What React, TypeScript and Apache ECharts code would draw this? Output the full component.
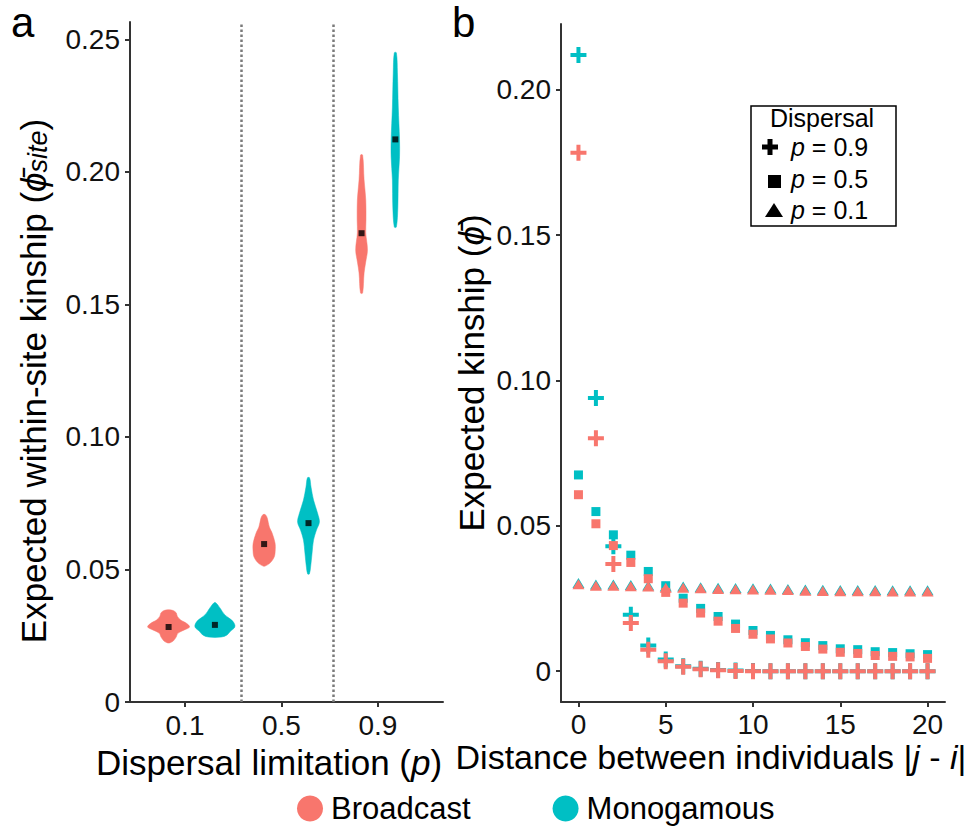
import React, { useEffect, useRef } from "react";
import * as echarts from "echarts";

// ---------- Panel a data ----------
const dispersalCats = ["0.1", "0.5", "0.9"];
const groups = ["Broadcast", "Monogamous"];
const colors: Record<string, string> = { Broadcast: "#F8766D", Monogamous: "#00BFC4" };

// mean within-site kinship per dispersal level
const meanBroadcast = [0.0283, 0.0596, 0.1769];
const meanMonogamous = [0.0291, 0.0675, 0.2123];

// violin density profiles: [kinship, relative density]
const violinBroadcast: number[][][] = [
  [[0.0348, 0.05], [0.0345, 0.22], [0.0337, 0.36], [0.0323, 0.42], [0.0309, 0.58], [0.0297, 0.85], [0.0283, 1.0], [0.0272, 0.75], [0.0260, 0.45], [0.0245, 0.36], [0.0230, 0.22], [0.0223, 0.05]],
  [[0.0707, 0.06], [0.0694, 0.15], [0.0660, 0.25], [0.0638, 0.38], [0.0600, 0.52], [0.0574, 0.53], [0.0547, 0.48], [0.0525, 0.29], [0.0513, 0.05]],
  [[0.2064, 0.05], [0.1970, 0.12], [0.1894, 0.20], [0.1819, 0.21], [0.1770, 0.20], [0.1706, 0.28], [0.1657, 0.19], [0.1619, 0.12], [0.1543, 0.05]],
];
const violinMonogamous: number[][][] = [
  [[0.0374, 0.05], [0.0355, 0.24], [0.0328, 0.48], [0.0309, 0.80], [0.0291, 0.95], [0.0279, 0.92], [0.0268, 0.75], [0.0253, 0.58], [0.0245, 0.3]],
  [[0.0846, 0.05], [0.0811, 0.12], [0.0762, 0.24], [0.0713, 0.43], [0.0679, 0.52], [0.0649, 0.38], [0.0611, 0.24], [0.0562, 0.17], [0.0509, 0.10], [0.0483, 0.04]],
  [[0.2450, 0.05], [0.2374, 0.10], [0.2245, 0.14], [0.2121, 0.20], [0.2057, 0.20], [0.1970, 0.14], [0.1868, 0.12], [0.1792, 0.05]],
];

// ---------- Panel b data ----------
const distances = Array.from({ length: 21 }, (_, i) => i);
const broadcastP09 = [0.1783, 0.0801, 0.0369, 0.0166, 0.0074, 0.0034, 0.0015, 0.0007, 0.0003, 0.0001, 0, 0, 0, 0, 0, 0, 0, 0, 0, 0, 0];
const monogamousP09 = [0.2119, 0.0940, 0.0430, 0.0194, 0.0088, 0.0040, 0.0017, 0.0008, 0.0004, 0.0002, 0.0001, 0, 0, 0, 0, 0, 0, 0, 0, 0, 0];
const broadcastP05 = [0.0607, 0.0507, 0.0432, 0.0374, 0.0318, 0.0271, 0.0234, 0.0200, 0.0172, 0.0147, 0.0127, 0.0111, 0.0097, 0.0085, 0.0076, 0.0065, 0.0061, 0.0054, 0.0051, 0.0049, 0.0044];
const monogamousP05 = [0.0675, 0.0549, 0.0469, 0.0399, 0.0343, 0.0294, 0.0251, 0.0216, 0.0188, 0.0162, 0.0140, 0.0123, 0.0108, 0.0098, 0.0088, 0.0077, 0.0074, 0.0067, 0.0064, 0.0060, 0.0057];
const broadcastP01 = [0.0299, 0.0294, 0.0294, 0.0292, 0.0291, 0.0287, 0.0287, 0.0285, 0.0283, 0.0282, 0.0281, 0.0280, 0.0279, 0.0277, 0.0276, 0.0275, 0.0275, 0.0275, 0.0274, 0.0274, 0.0274];
const monogamousP01 = [0.0303, 0.0298, 0.0298, 0.0296, 0.0295, 0.0291, 0.0291, 0.0289, 0.0287, 0.0286, 0.0285, 0.0284, 0.0283, 0.0281, 0.0280, 0.0279, 0.0279, 0.0279, 0.0278, 0.0278, 0.0278];

const yTicksA = [0, 0.05, 0.1, 0.15, 0.2, 0.25];
const yTicksB = [0, 0.05, 0.1, 0.15, 0.2];
const xTicksB = [0, 5, 10, 15, 20];
const legendLevels = ["0.9", "0.5", "0.1"];

// ---------- layout constants ----------
const FONT = "Liberation Sans, Arial, Helvetica, sans-serif";
const dodge: Record<string, number[]> = { Broadcast: [-0.17, -0.18, -0.17], Monogamous: [0.31, 0.28, 0.18] };
const VIOLIN_HALF_PX = 21;
const PLUS = "path://M3,0H5V3H8V5H5V8H3V5H0V3H3Z";
const TITLE_SIZE = 35;
const TICK_SIZE = 28;

export default function App() {
  const ref = useRef<HTMLDivElement>(null);
  useEffect(() => {
    const chart = echarts.init(ref.current!, null, { renderer: "svg" });

    const violinSeries = (g: string) => {
      const profiles = g === "Broadcast" ? violinBroadcast : violinMonogamous;
      const means = g === "Broadcast" ? meanBroadcast : meanMonogamous;
      return {
        type: "custom",
        name: g,
        xAxisIndex: 0,
        yAxisIndex: 0,
        itemStyle: { color: colors[g] },
        data: means.map((m, i) => [i + 1 + dodge[g][i], m]),
        renderItem: (params: any, api: any) => {
          const i = params.dataIndex;
          const xc = api.value(0);
          const prof = profiles[i];
          const right = prof.map(([v, d]) => {
            const p = api.coord([xc, v]);
            return [p[0] + d * VIOLIN_HALF_PX, p[1]];
          });
          const left = prof
            .slice()
            .reverse()
            .map(([v, d]) => {
              const p = api.coord([xc, v]);
              return [p[0] - d * VIOLIN_HALF_PX, p[1]];
            });
          return {
            type: "polygon",
            shape: { points: right.concat(left), smooth: 0.35 },
            style: { fill: colors[g], stroke: colors[g], lineWidth: 0.5 },
          };
        },
      };
    };

    const meanSeries = {
      type: "scatter",
      name: "mean",
      xAxisIndex: 0,
      yAxisIndex: 0,
      symbol: "rect",
      symbolSize: 6,
      itemStyle: { color: "#000" },
      z: 5,
      data: [
        ...meanBroadcast.map((m, i) => [i + 1 + dodge.Broadcast[i], m]),
        ...meanMonogamous.map((m, i) => [i + 1 + dodge.Monogamous[i], m]),
      ],
      markLine: {
        silent: true,
        symbol: "none",
        label: { show: false },
        lineStyle: { type: [2.5, 2.5], color: "#7a7a7a", width: 2.5 },
        data: [{ xAxis: 1.58 }, { xAxis: 2.544 }],
      },
    };

    const pointSeries = (g: string, shape: string, vals: number[], size: any) => ({
      type: "scatter",
      name: g,
      xAxisIndex: 1,
      yAxisIndex: 1,
      symbol: shape,
      symbolSize: size,
      itemStyle: { color: colors[g], opacity: 1 },
      data: distances.map((d, i) => [d, vals[i]]),
    });

    const axisLine = { show: true, onZero: false, lineStyle: { color: "#333", width: 2 } };
    const axisTick = (vals: number[]) => ({ show: true, length: 5, lineStyle: { color: "#333", width: 2 }, customValues: vals });
    const tickLabel = { fontFamily: FONT, fontSize: TICK_SIZE, color: "#111" };
    const titleStyle = { fontFamily: FONT, fontSize: TITLE_SIZE, color: "#000" };
    const titleRich = {
      t: titleStyle,
      i: { ...titleStyle, fontStyle: "italic" },
      s: { ...titleStyle, fontSize: 27, fontStyle: "italic", padding: [10, 0, 0, 0] },
    };
    const titleRichB = {
      t: { ...titleStyle, fontSize: 34 },
      i: { ...titleStyle, fontSize: 34, fontStyle: "italic" },
    };

    chart.setOption({
      animation: false,
      textStyle: { fontFamily: FONT },
      grid: [
        { left: 130, top: 22, width: 313, height: 680, outerBoundsMode: "none", containLabel: false },
        { left: 561, top: 24, width: 384, height: 678, outerBoundsMode: "none", containLabel: false },
      ],
      xAxis: [
        {
          type: "value",
          gridIndex: 0,
          min: 0.43,
          max: 3.674,
          splitLine: { show: false },
          axisLine,
          axisTick: axisTick([1, 2, 3]),
          axisLabel: { ...tickLabel, margin: 9, customValues: [1, 2, 3], formatter: (v: number) => dispersalCats[Math.round(v) - 1] ?? "" },
        },
        {
          type: "value",
          gridIndex: 1,
          min: -1,
          max: 21,
          splitLine: { show: false },
          axisLine,
          axisTick: axisTick(xTicksB),
          axisLabel: { ...tickLabel, margin: 8, customValues: xTicksB },
        },
      ],
      yAxis: [
        {
          type: "value",
          gridIndex: 0,
          min: 0,
          max: 0.2566,
          splitLine: { show: false },
          axisLine,
          axisTick: axisTick(yTicksA),
          axisLabel: { ...tickLabel, margin: 10, customValues: yTicksA, formatter: (v: number) => (v === 0 ? "0" : v.toFixed(2)) },
        },
        {
          type: "value",
          gridIndex: 1,
          min: -0.0106,
          max: 0.2226,
          splitLine: { show: false },
          axisLine,
          axisTick: axisTick(yTicksB),
          axisLabel: { ...tickLabel, margin: 10, customValues: yTicksB, formatter: (v: number) => (v === 0 ? "0" : v.toFixed(2)) },
        },
      ],
      legend: {
        data: groups,
        icon: "circle",
        itemWidth: 26,
        itemHeight: 26,
        itemGap: 82,
        left: 292,
        top: 788,
        textStyle: { fontFamily: FONT, fontSize: 31, color: "#000", padding: [0, 0, 0, 3] },
        selectedMode: false,
      },
      graphic: [
        { type: "text", left: 11, top: 1, style: { text: "a", font: `42px ${FONT}`, fill: "#000" } },
        { type: "text", left: 452, top: 1, style: { text: "b", font: `42px ${FONT}`, fill: "#000" } },
        {
          type: "text",
          x: 33,
          y: 381,
          rotation: Math.PI / 2,
          style: { text: "{t|Expected within-site kinship (}{i|ϕ̄}{s|site}{t|)}", align: "center", verticalAlign: "middle", rich: titleRich },
        },
        {
          type: "text",
          x: 471,
          y: 373,
          rotation: Math.PI / 2,
          style: { text: "{t|Expected kinship (}{i|ϕ̄}{t|)}", align: "center", verticalAlign: "middle", rich: titleRich },
        },
        {
          type: "text",
          x: 269,
          y: 762,
          style: { text: "{t|Dispersal limitation (}{i|p}{t|)}", align: "center", verticalAlign: "middle", rich: titleRich },
        },
        {
          type: "text",
          x: 711,
          y: 757,
          style: { text: "{t|Distance between individuals |}{i|j}{t| - }{i|i}{t||}", align: "center", verticalAlign: "middle", rich: titleRichB },
        },
        { type: "rect", shape: { x: 751, y: 106, width: 145, height: 120 }, style: { fill: "#fff", stroke: "#000", lineWidth: 1.5 }, z: 10 },
        { type: "text", x: 822, y: 118, style: { text: "Dispersal", font: `25px ${FONT}`, fill: "#000", align: "center", verticalAlign: "middle" }, z: 11 },
        {
          type: "polygon",
          shape: { points: [[767.5, 139], [772.5, 139], [772.5, 144.5], [778, 144.5], [778, 149.5], [772.5, 149.5], [772.5, 155], [767.5, 155], [767.5, 149.5], [762, 149.5], [762, 144.5], [767.5, 144.5]] },
          style: { fill: "#000" },
          z: 11,
        },
        { type: "rect", shape: { x: 768, y: 175, width: 13, height: 13 }, style: { fill: "#000" }, z: 11 },
        { type: "polygon", shape: { points: [[765, 217], [783, 217], [774, 203]] }, style: { fill: "#000" }, z: 11 },
        ...legendLevels.map((t, k) => ({
          type: "text",
          x: 791,
          y: [147, 179, 210][k],
          z: 11,
          style: {
            text: `{i|p}{n| = ${t}}`,
            verticalAlign: "middle",
            rich: { i: { fontFamily: FONT, fontSize: 25, fontStyle: "italic", fill: "#000" }, n: { fontFamily: FONT, fontSize: 25, fill: "#000" } },
          },
        })),
      ],
      series: [
        violinSeries("Broadcast"),
        violinSeries("Monogamous"),
        meanSeries,
        pointSeries("Monogamous", PLUS, monogamousP09, 16),
        pointSeries("Monogamous", "rect", monogamousP05, 9),
        pointSeries("Monogamous", "triangle", monogamousP01, [12, 10]),
        pointSeries("Broadcast", PLUS, broadcastP09, 16),
        pointSeries("Broadcast", "rect", broadcastP05, 9),
        pointSeries("Broadcast", "triangle", broadcastP01, [12, 10]),
      ],
    });
    return () => chart.dispose();
  }, []);
  return <div ref={ref} style={{ position: "fixed", left: 0, top: 0, width: 971, height: 830, background: "#fff" }} />;
}
